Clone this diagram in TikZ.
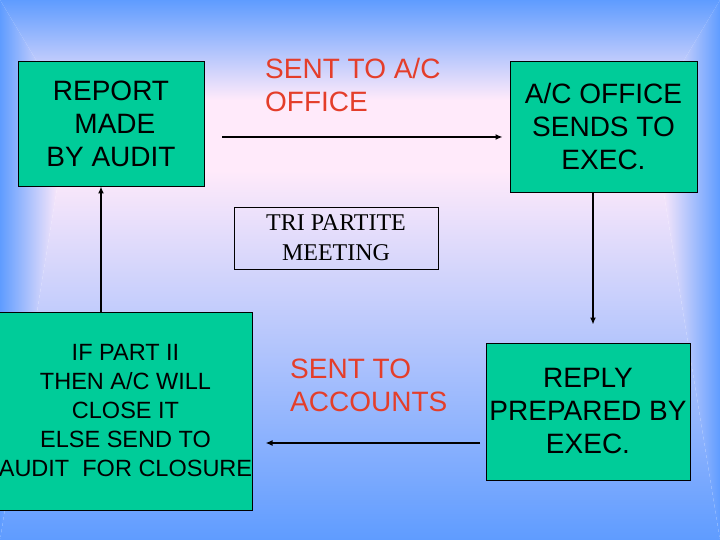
\documentclass[tikz,border=0pt]{standalone}
\usepackage{fontspec}
\setmainfont{Liberation Sans}
\newfontfamily\meetingfont{Liberation Serif}
\usetikzlibrary{arrows.meta}
\definecolor{bgblue}{RGB}{95,156,255}
\definecolor{bgmid}{RGB}{150,196,250}
\definecolor{bglow}{RGB}{152,198,246}
\definecolor{bgpink}{RGB}{255,234,250}
\definecolor{stagegreen}{RGB}{0,204,153}
\definecolor{sentred}{RGB}{228,62,42}

\begin{document}
\begin{tikzpicture}[x=1pt,y=-1pt]
                        \tikzstyle{stagebox}=[draw=black,fill=stagegreen,line width=0.9pt,inner sep=0pt,align=center,font=\fontsize{28}{33}\selectfont]
                        \tikzstyle{sentlabel}=[text=sentred,align=left,inner sep=0pt,anchor=west,font=\fontsize{28}{33}\selectfont]
                        \tikzstyle{flow}=[line width=1.8pt,-{Latex[length=7pt,width=6pt]}]
                        \useasboundingbox (0,0) rectangle (720,540);
                        \fill[bgpink] (60,100) rectangle (660,170);
                        \shade[top color=bgblue,middle color=bgmid,bottom color=bgpink] (0,0) -- (720,0) -- (660,100) -- (60,100) -- cycle;
                        \shade[top color=bgpink,middle color=bglow,bottom color=bgblue] (60,170) -- (660,170) -- (720,540) -- (0,540) -- cycle;
                        \shade[left color=bgblue,right color=bgpink] (0,0) -- (60,100) -- (60,170) -- (0,540) -- cycle;
                        \shade[left color=bgpink,right color=bgblue] (720,0) -- (660,100) -- (660,170) -- (720,540) -- cycle;
                        \node[stagebox,minimum width=186pt,minimum height=125pt] (report) at (111,123.5)
                            {REPORT\\~MADE\\BY AUDIT};
                        \node[stagebox,minimum width=187pt,minimum height=131pt] (office) at (603.5,126.5)
                            {A/C OFFICE\\SENDS TO\\EXEC.};
                        \node[stagebox,minimum width=204pt,minimum height=137pt] (reply) at (588,411.5)
                            {REPLY\\PREPARED BY\\EXEC.};
                        \node[stagebox,minimum width=253pt,minimum height=198pt,font=\fontsize{23.5}{29}\selectfont] (decision) at (125.5,411)
                            {IF PART II\\THEN A/C WILL\\CLOSE IT\\ELSE SEND TO\\AUDIT\ \ FOR CLOSURE};
                        \node[draw=black,line width=0.8pt,minimum width=204pt,minimum height=62pt,inner sep=0pt,align=center,font=\meetingfont\fontsize{24}{30}\selectfont] (meeting) at (336,238)
                            {TRI PARTITE\\MEETING};
                        \node[sentlabel] (sentoffice) at (265,85) {SENT TO A/C\\OFFICE};
                        \node[sentlabel] (sentaccounts) at (290,385.5) {SENT TO\\ACCOUNTS};
                        \coordinate (tooffice) at (222,137);
                        \coordinate (toexec) at (593,0);
                        \coordinate (toaccounts) at (480,443);
                        \coordinate (toaudit) at (101,0);
                        \draw[flow,shorten >=7pt] (tooffice) -- (tooffice -| office.west);
                        \draw[flow,shorten >=18pt] (toexec |- office.south) -- (toexec |- reply.north);
                        \draw[flow,shorten >=13pt] (toaccounts) -- (toaccounts -| decision.east);
                        \draw[flow] (toaudit |- decision.north) -- (toaudit |- report.south);
                    \end{tikzpicture}
\end{document}
